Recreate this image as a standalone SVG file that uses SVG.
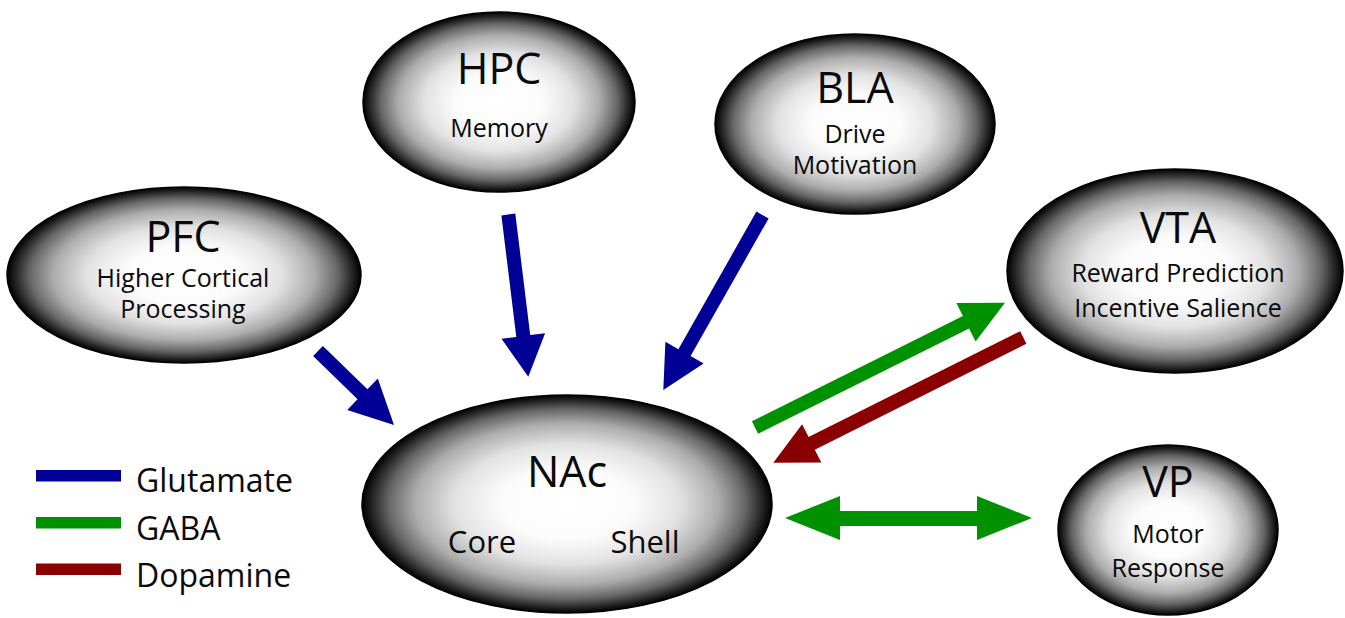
<svg xmlns="http://www.w3.org/2000/svg" width="1345" height="618" viewBox="0 0 1345 618">
  <defs>
    <radialGradient id="shade" cx="50%" cy="50%" r="50%">
      <stop offset="0" stop-color="#ffffff"/>
      <stop offset="0.32" stop-color="#fcfcfc"/>
      <stop offset="0.55" stop-color="#e2e2e2"/>
      <stop offset="0.74" stop-color="#acacac"/>
      <stop offset="0.87" stop-color="#666666"/>
      <stop offset="0.95" stop-color="#262626"/>
      <stop offset="1" stop-color="#000000"/>
    </radialGradient>
    <style>
      .region { fill: url(#shade); stroke: #000; stroke-width: 1.5; }
      text { font-family: "Open Sans", "Noto Sans", "Liberation Sans", sans-serif; fill: #0a0a0a; text-anchor: middle; }
      .title { font-size: 43px; }
      .sub { font-size: 25px; }
      .part { font-size: 31px; }
      .legend { font-size: 32px; text-anchor: start; }
      .glu { fill: #000096; }
      .gaba { fill: #009100; }
      .da { fill: #8a0000; }
    </style>
  </defs>
  <rect width="1345" height="618" fill="#ffffff"/>

  <g id="PFC">
    <ellipse class="region" cx="184" cy="275" rx="177" ry="88"/>
    <text class="title" x="183" y="252">PFC</text>
    <text class="sub" x="183" y="287">Higher Cortical</text>
    <text class="sub" x="183" y="318">Processing</text>
  </g>

  <g id="HPC">
    <ellipse class="region" cx="499" cy="102" rx="136" ry="90"/>
    <text class="title" x="499" y="84">HPC</text>
    <text class="sub" x="499" y="137">Memory</text>
  </g>

  <g id="BLA">
    <ellipse class="region" cx="855" cy="124" rx="140" ry="90"/>
    <text class="title" x="855" y="103">BLA</text>
    <text class="sub" x="855" y="143">Drive</text>
    <text class="sub" x="855" y="174">Motivation</text>
  </g>

  <g id="VTA">
    <ellipse class="region" cx="1175" cy="271" rx="168" ry="102"/>
    <text class="title" x="1178" y="243">VTA</text>
    <text class="sub" x="1178" y="282">Reward Prediction</text>
    <text class="sub" x="1178" y="317">Incentive Salience</text>
  </g>

  <g id="NAc">
    <ellipse class="region" cx="567" cy="504" rx="205" ry="109"/>
    <text class="title" x="567" y="487">NAc</text>
    <text class="part" x="482" y="553">Core</text>
    <text class="part" x="645" y="553">Shell</text>
  </g>

  <g id="VP">
    <ellipse class="region" cx="1168" cy="530" rx="110" ry="85"/>
    <text class="title" x="1168" y="497">VP</text>
    <text class="sub" x="1168" y="543">Motor</text>
    <text class="sub" x="1168" y="577">Response</text>
  </g>

  <g id="connectors">
    <!-- glutamate inputs to NAc -->
    <polygon class="glu" points="313.1,356.0 357.6,399.3 347.2,410.1 394,425 377.8,378.6 367.4,389.3 322.9,346.0"/>
    <polygon class="glu" points="501.4,215.4 516.3,336.9 501.5,338.7 528.3,376.7 545.1,333.3 530.2,335.1 515.3,213.6"/>
    <polygon class="glu" points="756.4,211.6 678.4,349.2 665.4,341.8 663.3,390 703.6,363.4 690.6,356.0 768.6,218.5"/>
    <!-- GABA NAc to VTA -->
    <polygon class="gaba" points="758.1,433.8 969.1,328.5 975.6,341.4 1005,302.7 956.4,303.0 962.9,315.9 751.9,421.2"/>
    <!-- dopamine VTA to NAc -->
    <polygon class="da" points="1020.2,331.2 808.6,437.1 802.1,424.2 773.3,462.7 821.3,462.6 814.8,449.7 1026.4,343.8"/>
    <!-- GABA NAc and VP, both ways -->
    <polygon class="gaba" points="785,518 840,496 840,511 977,511 977,496 1032,518 977,540 977,526 840,526 840,540"/>
  </g>

  <g id="legend">
    <rect class="glu" x="36" y="470" width="85" height="11.5"/>
    <rect class="gaba" x="36" y="517" width="85" height="11.5"/>
    <rect class="da" x="36" y="563.5" width="85" height="11.5"/>
    <text class="legend" x="136" y="492">Glutamate</text>
    <text class="legend" x="136" y="540">GABA</text>
    <text class="legend" x="136" y="587">Dopamine</text>
  </g>
</svg>
